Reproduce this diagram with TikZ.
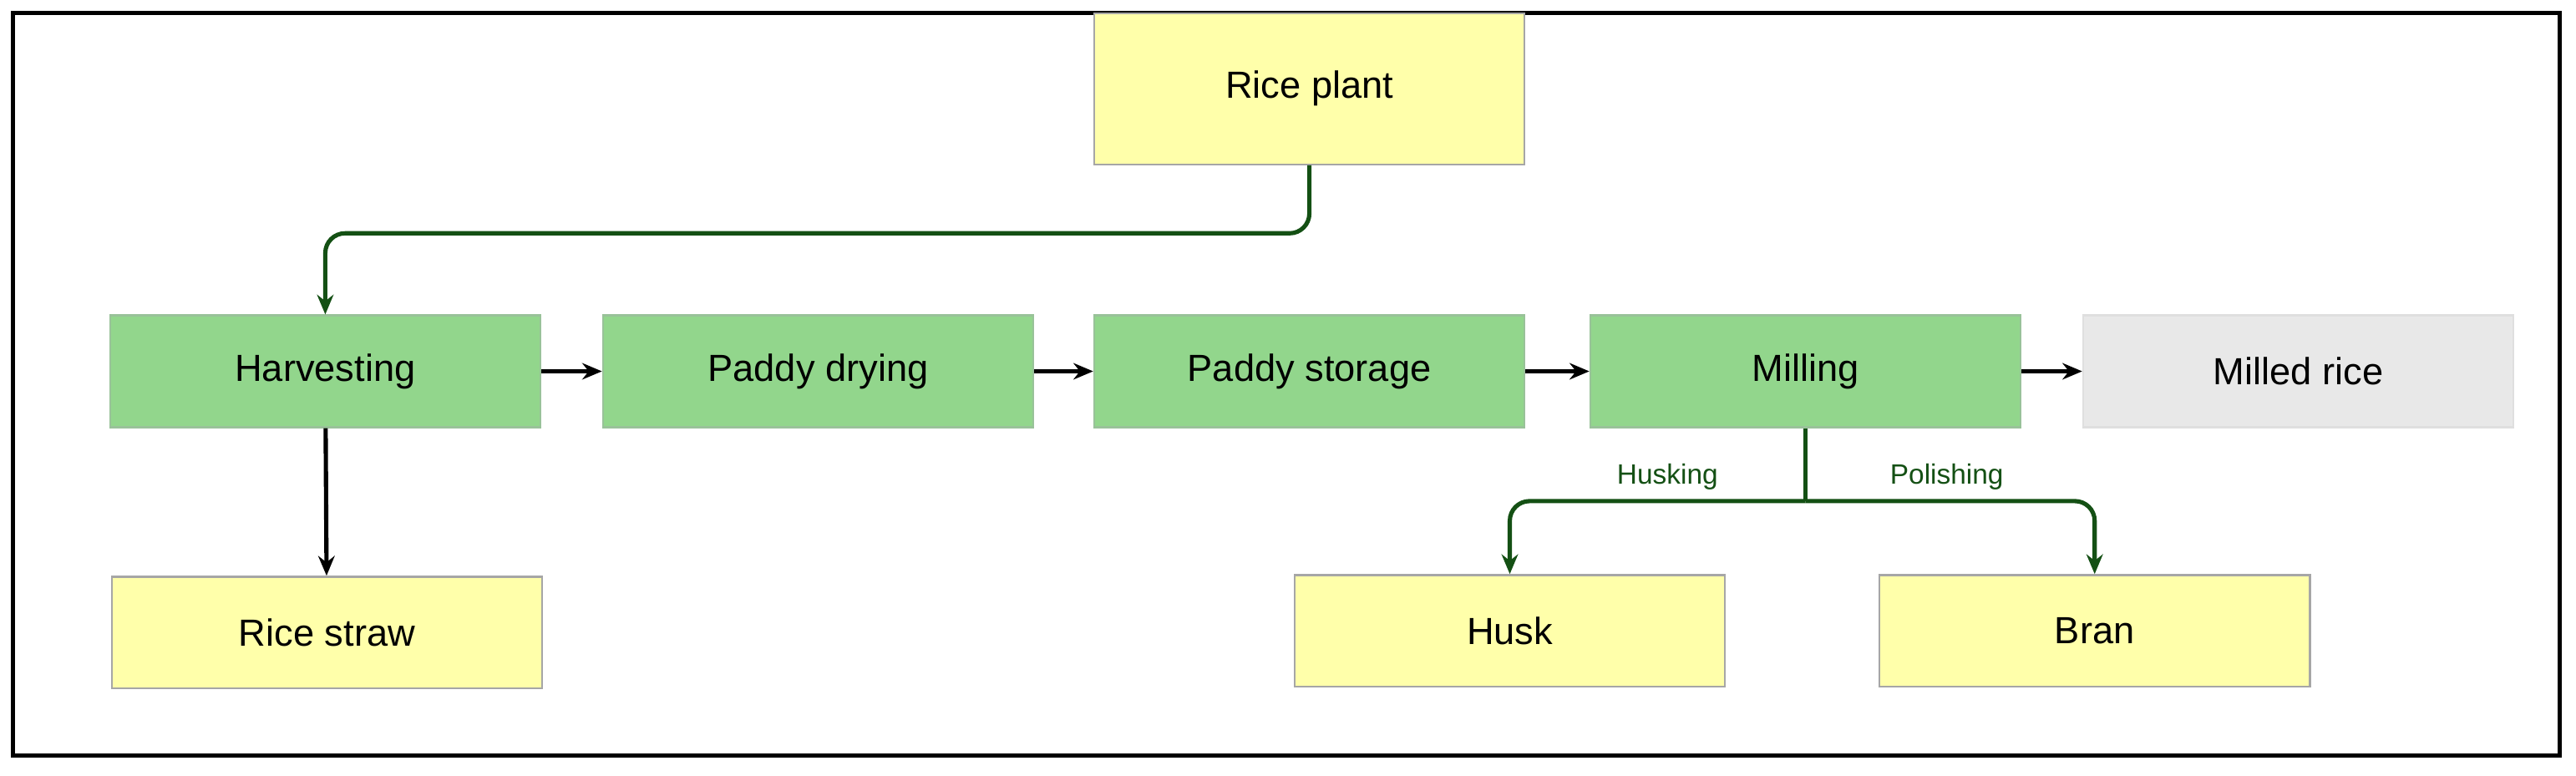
\documentclass[tikz,border=0pt]{standalone}
\usepackage{fontspec}
\setmainfont{Liberation Sans}
\usetikzlibrary{arrows.meta}
\begin{document}
\begin{tikzpicture}[x=0.5pt,y=-0.5pt,
  box/.style={line width=0.6pt, minimum width=131pt, minimum height=34pt, inner sep=0pt, font=\fontsize{11.5}{13}\selectfont},
  yb/.style={box, fill={rgb,255:red,255;green,255;blue,170}, draw=gray!70},
  gb/.style={box, draw=green!40!black!40, fill={rgb,255:red,146;green,214;blue,140}},
  grb/.style={box, fill=gray!18, draw=gray!25},
  arr/.style={-{Stealth[length=6pt,width=5pt]}, line width=1.3pt},
  garr/.style={arr, draw={rgb,255:red,20;green,80;blue,20}, rounded corners=6pt},
  lab/.style={font=\fontsize{8.5}{10}\selectfont, text={rgb,255:red,20;green,80;blue,20}}]
\useasboundingbox (0,0) rectangle (1568,472);
\draw[line width=1.2pt, fill=white] (8,8) rectangle (1558,460);
\node[yb, minimum height=46pt] (plant) at (797,54) {Rice plant};
\node[gb] (harv) at (198,226) {Harvesting};
\node[gb] (dry) at (498,226) {Paddy drying};
\node[gb] (store) at (797,226) {Paddy storage};
\node[gb] (mill) at (1099,226) {Milling};
\node[grb] (milled) at (1399,226) {Milled rice};
\node[yb] (straw) at (199,385) {Rice straw};
\node[yb] (husk) at (919,384) {Husk};
\node[yb] (bran) at (1275,384) {Bran};
\coordinate (split) at (1099,305);
\draw[garr] (plant.south) |- (500,142) -| (harv.north);
\draw[arr] (harv) -- (straw);
\draw[arr] (harv) -- (dry);
\draw[arr] (dry) -- (store);
\draw[arr] (store) -- (mill);
\draw[arr] (mill) -- (milled);
\draw[garr,-] (mill.south) -- (split);
\draw[garr] (split) -| (husk.north);
\draw[garr] (split) -| (bran.north);
\node[lab] (hl) at (1015,290) {Husking};
\node[lab] (pl) at (1185,290) {Polishing};
\end{tikzpicture}
\end{document}
